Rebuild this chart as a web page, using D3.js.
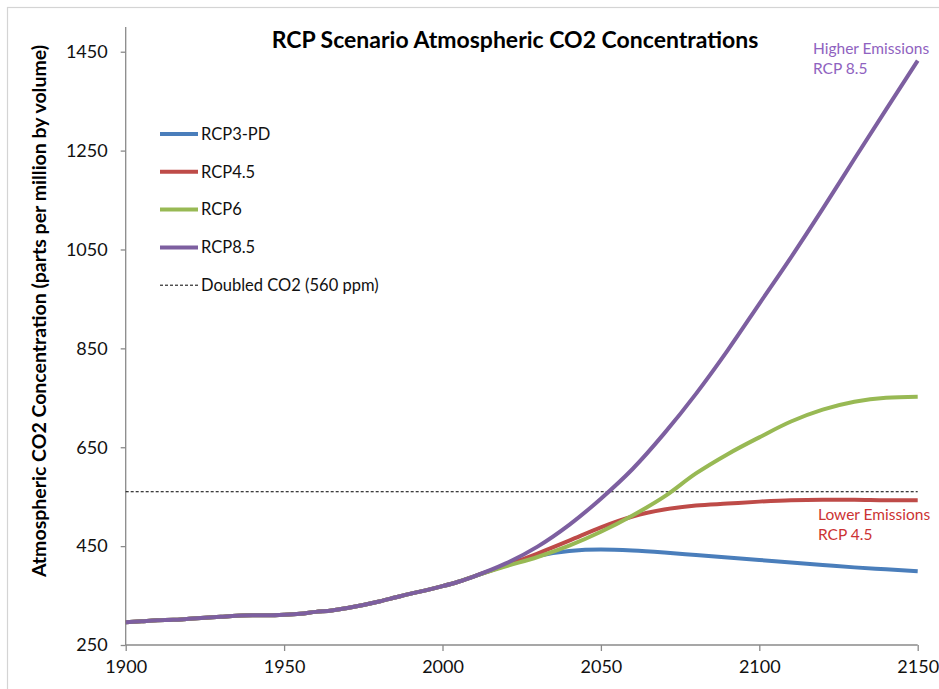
<!DOCTYPE html>
<html>
<head>
<meta charset="utf-8">
<script src="https://cdn.jsdelivr.net/npm/d3@7"></script>
<style>
  html, body { margin: 0; padding: 0; background: #fff; }
  svg { display: block; font-family: Lato, "Open Sans", sans-serif; }
</style>
</head>
<body>
<svg id="chart" width="939" height="689"></svg>
<script>
// ---- data ----
const historyYears  = [1900,1905,1910,1915,1920,1925,1930,1935,1940,1945,1950,1955,1960,1965,1970,1975,1980,1985,1990,1995,2000,2005];
const historyValues = [296,298,300,301,303,305,307,309,310,310,311,313,317,320,325,331,338,346,354,361,369,378];
const futureYears   = [2010,2020,2030,2040,2050,2060,2070,2080,2090,2100,2110,2120,2130,2140,2150];
const rcp3pd = [389,411,430,440,443,441,437,432,427,422,417,412,407,403,399];
const rcp45  = [389,411,435,461,488,510,524,532,536,540,543,544,544,543,543];
const rcp6   = [389,409,428,451,479,512,550,597,636,670,702,726,742,750,752];
const rcp85  = [389,415,449,493,546,606,678,758,846,940,1034,1132,1233,1333,1432];
const seriesNames  = ["RCP3-PD","RCP4.5","RCP6","RCP8.5"];
const seriesColors = ["#4a7ebb","#be4b48","#98b954","#7d5fa0"];
const doubledCO2 = 560;
const xTicks = [1900,1950,2000,2050,2100,2150];
const yTicks = [250,450,650,850,1050,1250,1450];

// ---- layout ----
const svg = d3.select("#chart");
const x = d3.scaleLinear().domain([1900,2150]).range([125.7,917.7]);
const y = d3.scaleLinear().domain([250,1500]).range([645,27]);

// outer frame
svg.append("rect").attr("x",7.5).attr("y",7.5).attr("width",940).attr("height",700)
  .attr("fill","none").attr("stroke","#d4d4d4").attr("stroke-width",1.2);

// axes
const axisColor = "#8a8a8a";
const yAxis = svg.append("g").attr("transform","translate(125.7,0)")
  .call(d3.axisLeft(y).tickValues(yTicks).tickFormat(d3.format("d")).tickSize(5).tickPadding(13));
const xAxis = svg.append("g").attr("transform","translate(0,645)")
  .call(d3.axisBottom(x).tickValues(xTicks).tickFormat(d3.format("d")).tickSize(6).tickPadding(9));
[yAxis, xAxis].forEach(g => {
  g.select(".domain").attr("stroke",axisColor).attr("stroke-width",1.3);
  g.selectAll(".tick line").attr("stroke",axisColor).attr("stroke-width",1.3);
  g.selectAll(".tick text").attr("fill","#111").style("font-size","18px")
    .style("font-family","Lato, 'Open Sans', sans-serif");
});
yAxis.select(".domain").attr("d", `M0,${y(1500)}V${y(250)}`);
xAxis.select(".domain").attr("d", `M${x(1900)},0H${x(2150)}`);

// doubled CO2 line
svg.append("line").attr("x1",x(1900)).attr("x2",x(2150))
  .attr("y1",y(doubledCO2)).attr("y2",y(doubledCO2))
  .attr("stroke","#000").attr("stroke-width",1).attr("stroke-dasharray","3,2");

// series
const futures = [rcp3pd, rcp45, rcp6, rcp85];
const line = d3.line().x(d => x(d[0])).y(d => y(d[1])).curve(d3.curveMonotoneX);
futures.forEach((vals, i) => {
  const pts = historyYears.map((yr,j)=>[yr,historyValues[j]])
    .concat(futureYears.map((yr,j)=>[yr,vals[j]]));
  svg.append("path").datum(pts).attr("d",line)
    .attr("fill","none").attr("stroke",seriesColors[i]).attr("stroke-width",4)
    .attr("stroke-linejoin","round").attr("stroke-linecap","butt");
});

// title
svg.append("text").attr("x",515).attr("y",48).attr("text-anchor","middle")
  .style("font-size","23px").style("font-weight","bold").attr("fill","#000")
  .text("RCP Scenario Atmospheric CO2 Concentrations");

// y-axis title
svg.append("text").attr("transform","translate(46,311) rotate(-90)")
  .attr("text-anchor","middle").style("font-size","19.5px").style("font-weight","bold")
  .attr("fill","#000")
  .text("Atmospheric CO2 Concentration (parts per million by volume)");

// legend
const legendItems = seriesNames.map((n,i)=>({name:n,color:seriesColors[i],dash:null}))
  .concat([{name:"Doubled CO2 (560 ppm)",color:"#000",dash:"3,2"}]);
const lg = svg.append("g");
legendItems.forEach((d,i)=>{
  const yy = 134 + i*37.8;
  lg.append("line").attr("x1",160).attr("x2",198).attr("y1",yy).attr("y2",yy)
    .attr("stroke",d.color).attr("stroke-width",d.dash?1:4).attr("stroke-dasharray",d.dash);
  lg.append("text").attr("x",201).attr("y",yy).attr("dy","0.35em")
    .style("font-size","16.5px").attr("fill","#111").text(d.name);
});

// annotations
const annHigh = svg.append("text").attr("x",813).attr("y",54)
  .style("font-size","15.5px").attr("fill","#8f62c0");
annHigh.append("tspan").attr("x",813).text("Higher Emissions");
annHigh.append("tspan").attr("x",813).attr("dy",19.5).text("RCP 8.5");
const annLow = svg.append("text").attr("x",818).attr("y",520)
  .style("font-size","15.5px").attr("fill","#cc3333");
annLow.append("tspan").attr("x",818).text("Lower Emissions");
annLow.append("tspan").attr("x",818).attr("dy",19.5).text("RCP 4.5");
</script>
</body>
</html>
